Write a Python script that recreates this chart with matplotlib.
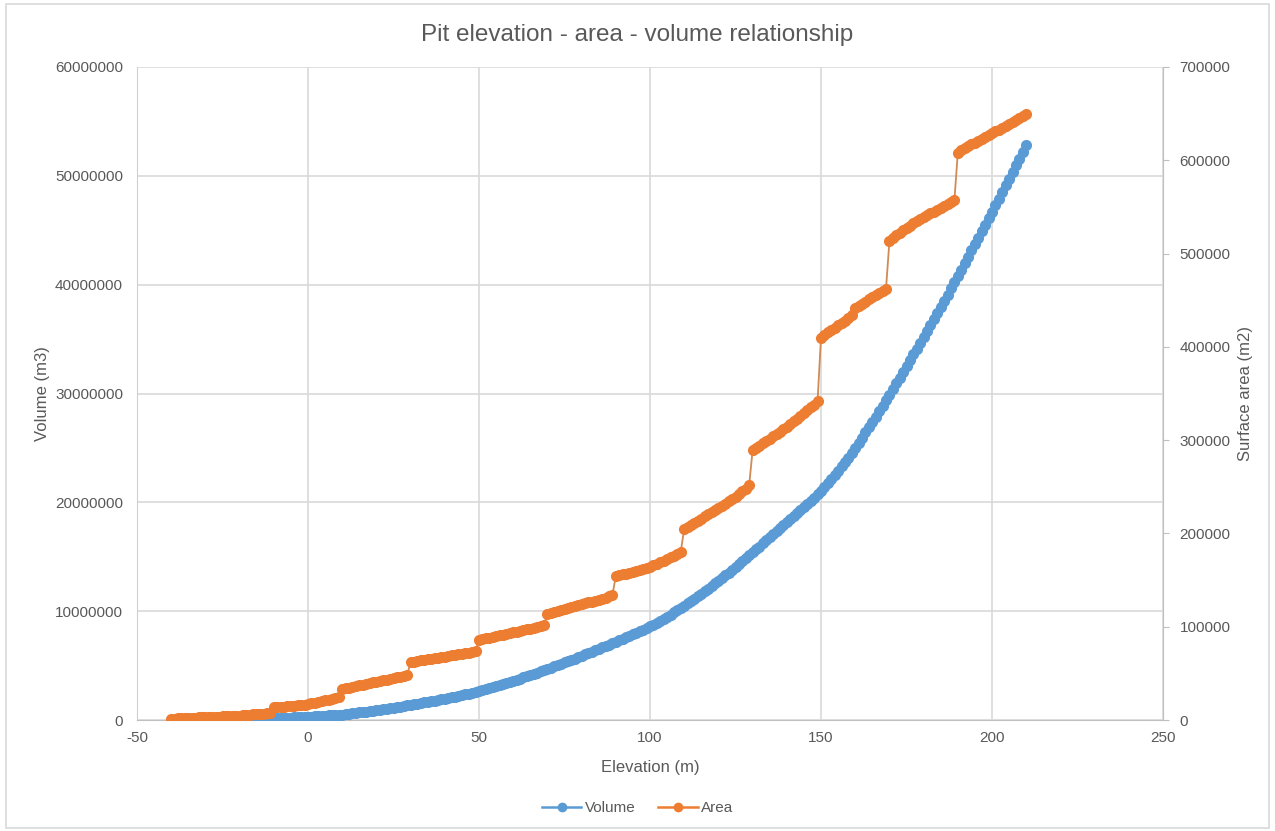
import numpy as np
import matplotlib.pyplot as plt
from matplotlib.patches import Rectangle
from matplotlib.lines import Line2D

plt.rcParams['font.family'] = ['Liberation Sans', 'DejaVu Sans']

# === Data (1 m steps from -40 to 210) ===
elevation = list(range(-40, 211))

# volume in million m3
volume_mm3 = [
    0.00, 0.00, 0.00, 0.01, 0.01, 0.01, 0.01, 0.01, 0.02, 0.02,
    0.02, 0.02, 0.03, 0.03, 0.04, 0.04, 0.05, 0.05, 0.06, 0.06,
    0.07, 0.07, 0.08, 0.09, 0.10, 0.10, 0.11, 0.12, 0.13, 0.14,
    0.15, 0.16, 0.18, 0.19, 0.21, 0.22, 0.24, 0.25, 0.27, 0.28,
    0.30, 0.32, 0.34, 0.36, 0.38, 0.40, 0.42, 0.44, 0.46, 0.48,
    0.50, 0.53, 0.57, 0.61, 0.65, 0.69, 0.73, 0.77, 0.81, 0.86,
    0.90, 0.94, 0.99, 1.04, 1.09, 1.14, 1.19, 1.24, 1.30, 1.35,
    1.40, 1.45, 1.50, 1.55, 1.61, 1.67, 1.73, 1.79, 1.85, 1.90,
    1.95, 2.01, 2.08, 2.15, 2.22, 2.29, 2.36, 2.43, 2.50, 2.58,
    2.65, 2.73, 2.82, 2.91, 3.00, 3.09, 3.19, 3.29, 3.39, 3.50,
    3.60, 3.70, 3.80, 3.91, 4.02, 4.13, 4.24, 4.35, 4.47, 4.58,
    4.70, 4.81, 4.93, 5.05, 5.17, 5.29, 5.41, 5.53, 5.65, 5.78,
    5.90, 6.02, 6.15, 6.28, 6.41, 6.54, 6.67, 6.80, 6.93, 7.07,
    7.20, 7.33, 7.47, 7.61, 7.75, 7.89, 8.03, 8.17, 8.31, 8.46,
    8.60, 8.77, 8.95, 9.13, 9.31, 9.50, 9.69, 9.89, 10.09, 10.29,
    10.50, 10.72, 10.94, 11.16, 11.38, 11.61, 11.84, 12.08, 12.32, 12.56,
    12.80, 13.05, 13.30, 13.55, 13.81, 14.07, 14.33, 14.60, 14.86, 15.13,
    15.40, 15.67, 15.94, 16.22, 16.50, 16.78, 17.06, 17.34, 17.63, 17.91,
    18.20, 18.48, 18.76, 19.04, 19.32, 19.60, 19.88, 20.16, 20.44, 20.72,
    21.00, 21.37, 21.75, 22.13, 22.52, 22.91, 23.30, 23.70, 24.10, 24.55,
    25.00, 25.47, 25.94, 26.42, 26.90, 27.39, 27.88, 28.38, 28.88, 29.39,
    29.90, 30.42, 30.94, 31.46, 31.99, 32.52, 33.05, 33.59, 34.13, 34.66,
    35.20, 35.75, 36.30, 36.85, 37.40, 37.96, 38.52, 39.09, 39.66, 40.23,
    40.80, 41.38, 41.96, 42.55, 43.14, 43.73, 44.32, 44.91, 45.51, 46.10,
    46.70, 47.30, 47.90, 48.51, 49.12, 49.73, 50.34, 50.95, 51.56, 52.18, 52.80,
]

# surface area in thousand m2
area_km2 = [
    1.5, 1.6, 1.8, 1.9, 2.1, 2.2, 2.4, 2.5, 2.7, 2.8,
    3.0, 3.2, 3.3, 3.5, 3.7, 3.9, 4.1, 4.3, 4.4, 4.6,
    4.8, 5.1, 5.4, 5.7, 6.0, 6.3, 6.6, 6.9, 7.2, 7.5,
    13.5, 13.8, 14.1, 14.4, 14.7, 15.0, 15.4, 15.8, 16.2, 16.6,
    17.0, 17.8, 18.6, 19.4, 20.2, 21.0, 21.8, 22.6, 23.5, 24.5,
    33.0, 33.8, 34.6, 35.4, 36.2, 37.0, 37.8, 38.6, 39.4, 40.2,
    41.0, 41.8, 42.6, 43.4, 44.2, 45.0, 45.8, 46.6, 47.4, 48.2,
    62.0, 62.6, 63.2, 63.8, 64.4, 65.0, 65.6, 66.2, 66.8, 67.4,
    68.0, 68.6, 69.2, 69.8, 70.4, 71.0, 71.6, 72.2, 72.8, 73.5,
    86.0, 86.8, 87.6, 88.4, 89.2, 90.0, 90.8, 91.6, 92.4, 93.2,
    94.0, 94.8, 95.6, 96.4, 97.2, 98.0, 98.8, 99.6, 100.6, 101.6,
    114.0, 115.0, 116.0, 117.0, 118.0, 119.0, 120.0, 121.0, 122.0, 123.0,
    124.0, 125.0, 126.0, 127.0, 128.0, 129.0, 130.0, 131.0, 132.5, 134.0,
    154.0, 155.0, 156.0, 157.0, 158.0, 159.0, 160.0, 161.0, 162.0, 163.0,
    164.0, 165.7, 167.4, 169.1, 170.8, 172.5, 174.2, 176.0, 178.0, 180.5,
    205.0, 207.2, 209.4, 211.6, 213.8, 216.0, 218.2, 220.4, 222.6, 224.8,
    227.0, 229.5, 232.0, 234.5, 237.0, 239.5, 242.0, 245.0, 248.0, 252.0,
    289.0, 291.5, 294.0, 296.5, 299.0, 301.5, 304.0, 306.5, 309.0, 311.5,
    314.0, 317.0, 320.0, 323.0, 326.0, 329.0, 332.0, 335.0, 338.0, 342.0,
    410.0, 413.0, 415.5, 418.0, 420.5, 423.0, 425.5, 428.0, 431.0, 434.0,
    442.0, 444.2, 446.4, 448.6, 450.8, 453.0, 455.2, 457.4, 459.6, 462.0,
    513.0, 516.5, 519.5, 522.5, 525.0, 527.5, 530.0, 532.5, 534.5, 537.0,
    539.0, 541.0, 543.0, 545.0, 547.0, 549.0, 551.0, 553.0, 555.0, 557.0,
    608.0, 610.5, 613.0, 615.0, 617.0, 619.0, 621.0, 623.0, 625.0, 627.0,
    629.0, 631.0, 633.0, 635.0, 637.0, 639.0, 641.0, 643.0, 645.0, 647.5, 650.0,
]

x_ticks = [-50, 0, 50, 100, 150, 200, 250]
vol_ticks = [0, 10000000, 20000000, 30000000, 40000000, 50000000, 60000000]
area_ticks = [0, 100000, 200000, 300000, 400000, 500000, 600000, 700000]

blue = '#5B9BD5'
orange = '#ED7D31'
txt = '#595959'
grid_c = '#d9d9d9'

# === Figure ===
fig = plt.figure(figsize=(12.75, 8.31), dpi=100)
ax = fig.add_axes([137 / 1275, 1 - 720 / 831, (1163 - 137) / 1275, (720 - 67) / 831])
ax2 = ax.twinx()

vol = np.array(volume_mm3) * 1e6
area = np.array(area_km2) * 1e3

ax.plot(elevation, vol, color=blue, lw=1.5, marker='o', ms=7, mec=blue, mfc=blue, zorder=3)
ax2.plot(elevation, area, color='#d08a55', lw=1.3, zorder=2)
ax2.plot(elevation, area, color=orange, lw=0, marker='o', ms=7, mec=orange, mfc=orange, zorder=3)

ax.set_xlim(-50, 250)
ax.set_ylim(0, 60000000)
ax2.set_ylim(0, 700000)
ax.set_xticks(x_ticks)
ax.set_xticklabels([str(t) for t in x_ticks])
ax.set_yticks(vol_ticks)
ax.set_yticklabels([str(t) for t in vol_ticks])
ax2.set_yticks(area_ticks)
ax2.set_yticklabels([str(t) for t in area_ticks])

ax.grid(True, color=grid_c, lw=1.2)
ax.set_axisbelow(True)

for a in (ax, ax2):
    for s in a.spines.values():
        s.set_visible(False)
ax.spines['bottom'].set_visible(True)
ax.spines['bottom'].set_color('#bfbfbf')
ax.spines['left'].set_visible(True)
ax.spines['left'].set_color('#d0d0d0')
ax2.spines['right'].set_visible(True)
ax2.spines['right'].set_color('#bfbfbf')

ax.tick_params(axis='x', colors=txt, labelsize=11, length=0, pad=8)
ax.tick_params(axis='y', colors=txt, labelsize=11, length=0, pad=10)
ax2.tick_params(axis='y', colors=txt, labelsize=11, length=4, color='#bfbfbf', pad=8)

ax.set_xlabel('Elevation (m)', color=txt, fontsize=12, labelpad=11)
ax.set_ylabel('Volume (m3)', color=txt, fontsize=12, labelpad=4)
ax2.set_ylabel('Surface area (m2)', color=txt, fontsize=12, labelpad=5)

fig.text(0.5, 1 - 35 / 831, 'Pit elevation - area - volume relationship',
         ha='center', va='center', fontsize=17.5, color=txt)

handles = [
    Line2D([], [], color=blue, lw=1.8, marker='o', ms=6, mec=blue),
    Line2D([], [], color=orange, lw=1.8, marker='o', ms=6, mec=orange),
]
fig.legend(handles, ['Volume', 'Area'], loc='center', ncol=2, frameon=False,
           bbox_to_anchor=(0.5, 1 - 808 / 831), fontsize=11, labelcolor=txt,
           handlelength=2.6, handletextpad=0.2, columnspacing=1.5)

# outer chart border
fig.patches.append(Rectangle((6 / 1275, 3 / 831), 1263 / 1275, 824 / 831,
                             transform=fig.transFigure, fill=False,
                             edgecolor='#d9d9d9', lw=1.2))

fig.savefig('out.png', dpi=100, facecolor='white')
